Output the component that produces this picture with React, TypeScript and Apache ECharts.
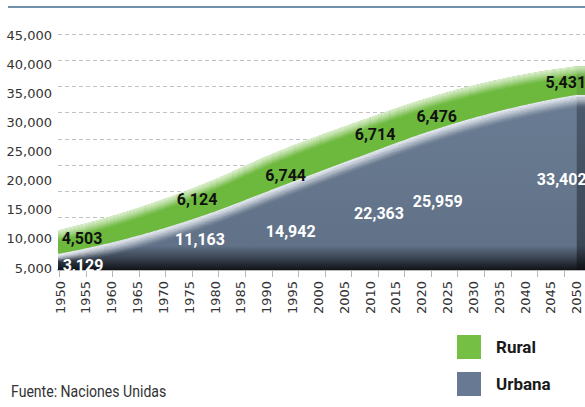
import React, { useEffect, useRef } from "react";
import * as echarts from "echarts";

// ---- data ----
const years = [1950, 1980, 1990, 2010, 2020, 2050];
const rural = [4503, 6124, 6744, 6714, 6476, 5431];
const urbana = [3129, 11163, 14942, 22363, 25959, 33402];
const xTicks = [1950, 1955, 1960, 1965, 1970, 1975, 1980, 1985, 1990, 1995, 2000, 2005, 2010, 2015, 2020, 2025, 2030, 2035, 2040, 2045, 2050];
const yTicks = [5000, 10000, 15000, 20000, 25000, 30000, 35000, 40000, 45000];
const seriesNames = ["Rural", "Urbana"];
const sourceText = "Fuente: Naciones Unidas";

// ---- label placement (pixel offsets of each label from its point) ----
const ruralLabelOffsets = [[22, 9], [-18, 20], [19, 19], [5, 17], [15, 17], [-11, 16]];
const urbanLabelOffsets = [[23, 12], [-15, 28], [24, 40], [9, 61], [16, 68], [-15, 85]];

// ---- styling ----
const GREEN = "#74bf44";
const GREEN_BAND = "#6cb93d";
const SLATE = "#687a93";
// label axis (main) extent and the slightly different tick-mark scale of the original
const X_MIN = 1949.61;
const X_MAX = 2051.6;
const TICK_MIN = 1949.76;
const TICK_MAX = 2048.97;

const fmt = (v: number) => v.toLocaleString("en-US");

// monotone cubic (Fritsch–Carlson) sampling through pixel points
function monotoneSample(pts: number[][], step = 2): number[][] {
  const n = pts.length;
  const xs = pts.map((p) => p[0]);
  const ys = pts.map((p) => p[1]);
  const h: number[] = [];
  const d: number[] = [];
  for (let i = 0; i < n - 1; i++) {
    h.push(xs[i + 1] - xs[i]);
    d.push((ys[i + 1] - ys[i]) / (xs[i + 1] - xs[i]));
  }
  const m: number[] = new Array(n).fill(0);
  for (let i = 1; i < n - 1; i++) {
    m[i] = d[i - 1] * d[i] <= 0 ? 0 : (h[i] * d[i - 1] + h[i - 1] * d[i]) / (h[i - 1] + h[i]);
  }
  const endSlope = (h0: number, h1: number, d0: number, d1: number) => {
    let s = ((2 * h0 + h1) * d0 - h0 * d1) / (h0 + h1);
    if (Math.sign(s) !== Math.sign(d0)) s = 0;
    else if (Math.sign(d0) !== Math.sign(d1) && Math.abs(s) > Math.abs(3 * d0)) s = 3 * d0;
    return s;
  };
  m[0] = endSlope(h[0], h[1], d[0], d[1]);
  m[n - 1] = endSlope(h[n - 2], h[n - 3], d[n - 2], d[n - 3]);
  for (let i = 0; i < n - 1; i++) {
    if (d[i] === 0) {
      m[i] = 0;
      m[i + 1] = 0;
      continue;
    }
    const a = m[i] / d[i];
    const b = m[i + 1] / d[i];
    const s = a * a + b * b;
    if (s > 9) {
      const t = 3 / Math.sqrt(s);
      m[i] = t * a * d[i];
      m[i + 1] = t * b * d[i];
    }
  }
  const out: number[][] = [];
  for (let i = 0; i < n - 1; i++) {
    const steps = Math.max(2, Math.ceil(h[i] / step));
    for (let k = 0; k < steps; k++) {
      const t = k / steps;
      const t2 = t * t;
      const t3 = t2 * t;
      const h00 = 2 * t3 - 3 * t2 + 1;
      const h10 = t3 - 2 * t2 + t;
      const h01 = -2 * t3 + 3 * t2;
      const h11 = t3 - t2;
      out.push([
        xs[i] + t * h[i],
        h00 * ys[i] + h10 * h[i] * m[i] + h01 * ys[i + 1] + h11 * h[i] * m[i + 1],
      ]);
    }
  }
  out.push([xs[n - 1], ys[n - 1]]);
  return out;
}

export default function App() {
  const ref = useRef<HTMLDivElement>(null);
  useEffect(() => {
    if (!ref.current) return;
    const chart = echarts.init(ref.current, null, { renderer: "svg" });
    const last = years.length - 1;
    const totals = years.map((_, i) => urbana[i] + rural[i]);
    const rows = years.map((yr, i) => [yr, urbana[i], totals[i]]);

    const labelStyle = (text: string, fill: string) => ({
      text,
      fill,
      fontFamily: "Roboto",
      fontWeight: "bold",
      fontSize: 16,
      align: "center",
      verticalAlign: "middle",
    });

    // smooth top edge of a band, extended flat to the plot edges
    const curve = (api: any, vals: number[]) => {
      const pts = years.map((yr, i) => api.coord([yr, vals[i]]));
      const s = monotoneSample(pts);
      const xL = api.coord([X_MIN, 0])[0];
      const xR = api.coord([X_MAX, 0])[0];
      return [[xL, pts[0][1]], ...s, [xR, pts[last][1]]];
    };

    // green band between the urban curve and the total curve (drawn above the urban area)
    const renderRural = (params: any, api: any) => {
      const i = params.dataIndex;
      const children: any[] = [];
      if (i === 0) {
        const top = curve(api, totals);
        const bottom = curve(api, urbana);
        const xR = top[top.length - 1][0];
        children.push({
          type: "polygon",
          shape: { points: [...top, ...bottom.slice().reverse()] },
          style: { fill: GREEN_BAND },
        });
        const pT = api.coord([years[last], totals[last]]);
        const pU = api.coord([years[last], urbana[last]]);
        children.push({
          type: "rect",
          shape: { x: pT[0], y: pT[1], width: xR - pT[0], height: pU[1] - pT[1] },
          style: { fill: "#62a83a" },
        });
        const K = 11;
        for (let k = 0; k < K; k++) {
          const a = 0.95 * Math.pow(1 - k / K, 1.3);
          children.push({
            type: "polyline",
            shape: { points: top.map((p) => [p[0], p[1] + k + 0.5]) },
            style: { stroke: `rgba(222,239,208,${a.toFixed(3)})`, lineWidth: 1.3, fill: null },
          });
        }
      }
      const p = api.coord([years[i], totals[i]]);
      children.push({
        type: "text",
        x: p[0] + ruralLabelOffsets[i][0],
        y: p[1] + ruralLabelOffsets[i][1],
        style: labelStyle(fmt(rural[i]), "#111111"),
      });
      return { type: "group", children };
    };

    const renderUrban = (params: any, api: any) => {
      const i = params.dataIndex;
      const children: any[] = [];
      if (i === 0) {
        const top = curve(api, urbana);
        const y0 = api.coord([X_MIN, 0])[1];
        const xL = top[0][0];
        const xR = top[top.length - 1][0];
        children.push({
          type: "polygon",
          shape: { points: [...top, [xR, y0], [xL, y0]] },
          style: {
            fill: new echarts.graphic.LinearGradient(0, 0, 0, 1, [
              { offset: 0, color: "#6a7c93" },
              { offset: 0.86, color: "#617288" },
              { offset: 0.935, color: "#384250" },
              { offset: 1, color: "#101318" },
            ]),
          },
        });
        const pU = api.coord([years[last], urbana[last]]);
        children.push({
          type: "rect",
          shape: { x: pU[0], y: pU[1], width: xR - pU[0], height: y0 - pU[1] },
          style: {
            fill: new echarts.graphic.LinearGradient(0, 0, 0, 1, [
              { offset: 0, color: "#4d5b6f" },
              { offset: 0.86, color: "#3b4655" },
              { offset: 1, color: "#0d0f13" },
            ]),
          },
        });
        const K = 14;
        for (let k = 0; k < K; k++) {
          const a = 0.92 * Math.pow(1 - k / K, 1.5);
          children.push({
            type: "polyline",
            shape: {
              points: top.map((p) => {
                const w = Math.min(13, 0.5 * (y0 - p[1]));
                return [p[0], p[1] + ((k + 0.5) / K) * w];
              }),
            },
            style: { stroke: `rgba(236,239,244,${a.toFixed(3)})`, lineWidth: 1.4, fill: null },
          });
        }
      }
      const p = api.coord([years[i], urbana[i]]);
      children.push({
        type: "text",
        x: p[0] + urbanLabelOffsets[i][0],
        y: p[1] + urbanLabelOffsets[i][1],
        style: labelStyle(fmt(urbana[i]), "#ffffff"),
      });
      return { type: "group", children };
    };

    chart.setOption({
      animation: false,
      grid: { left: 58, right: 0, top: 34, bottom: 137 },
      legend: {
        orient: "vertical",
        left: 452,
        top: 330,
        itemWidth: 24,
        itemHeight: 24,
        itemGap: 13,
        icon: "rect",
        selectedMode: false,
        itemStyle: { borderWidth: 0 },
        data: [
          { name: seriesNames[0], itemStyle: { color: GREEN } },
          { name: seriesNames[1], itemStyle: { color: SLATE } },
        ],
        textStyle: {
          fontFamily: "Roboto",
          fontWeight: "bold",
          fontSize: 17,
          color: "#1a1a1a",
          padding: [0, 0, 0, 10],
        },
      },
      xAxis: [
        {
          type: "value",
          min: X_MIN,
          max: X_MAX,
          splitLine: { show: false },
          axisLine: { onZero: false, lineStyle: { color: "#b8b8b8", width: 2 } },
          axisTick: { show: false },
          axisLabel: {
            customValues: xTicks,
            rotate: 90,
            margin: 11,
            fontFamily: "DejaVu Sans",
            fontSize: 13,
            color: "#333",
            formatter: (v: number) => String(v),
          },
        },
        {
          type: "value",
          position: "bottom",
          min: TICK_MIN,
          max: TICK_MAX,
          splitLine: { show: false },
          axisLine: { show: false, onZero: false },
          axisLabel: { show: false },
          axisTick: {
            customValues: xTicks.filter((v) => v <= TICK_MAX),
            length: 7,
            lineStyle: { color: "#b8b8b8", width: 1 },
          },
        },
      ],
      yAxis: [
        {
          type: "value",
          min: 0,
          max: 45000,
          interval: 5000,
          axisLine: { show: false },
          axisTick: { show: false },
          axisLabel: { show: false },
          splitLine: { lineStyle: { type: [4, 3], color: "#c2c2c2", width: 1 } },
        },
        {
          type: "value",
          position: "left",
          min: 4657,
          max: 45172,
          axisLine: { show: false },
          axisTick: { show: false },
          splitLine: { show: false },
          axisLabel: {
            customValues: yTicks,
            formatter: (v: number) => fmt(v),
            fontFamily: "DejaVu Sans",
            fontSize: 13,
            color: "#333",
            margin: 6,
          },
        },
      ],
      series: [
        {
          name: seriesNames[0],
          type: "custom",
          z: 3,
          xAxisIndex: 0,
          yAxisIndex: 0,
          data: rows,
          encode: { x: 0, y: 2 },
          itemStyle: { color: GREEN },
          renderItem: renderRural,
        },
        {
          name: seriesNames[1],
          type: "custom",
          z: 2,
          xAxisIndex: 0,
          yAxisIndex: 0,
          data: rows,
          encode: { x: 0, y: 1 },
          itemStyle: { color: SLATE },
          renderItem: renderUrban,
        },
      ],
      graphic: [
        {
          type: "line",
          shape: { x1: 8, y1: 7, x2: 585, y2: 7 },
          style: { stroke: "#3f6d8d", lineWidth: 1.5 },
        },
        {
          type: "text",
          left: 11,
          top: 384,
          scaleX: 0.88,
          style: {
            text: sourceText,
            fontFamily: "Roboto",
            fontSize: 16,
            fill: "#333333",
          },
        },
      ],
    });
    return () => chart.dispose();
  }, []);

  return (
    <div
      ref={ref}
      style={{ position: "absolute", left: 0, top: 0, width: 585, height: 407 }}
    />
  );
}
